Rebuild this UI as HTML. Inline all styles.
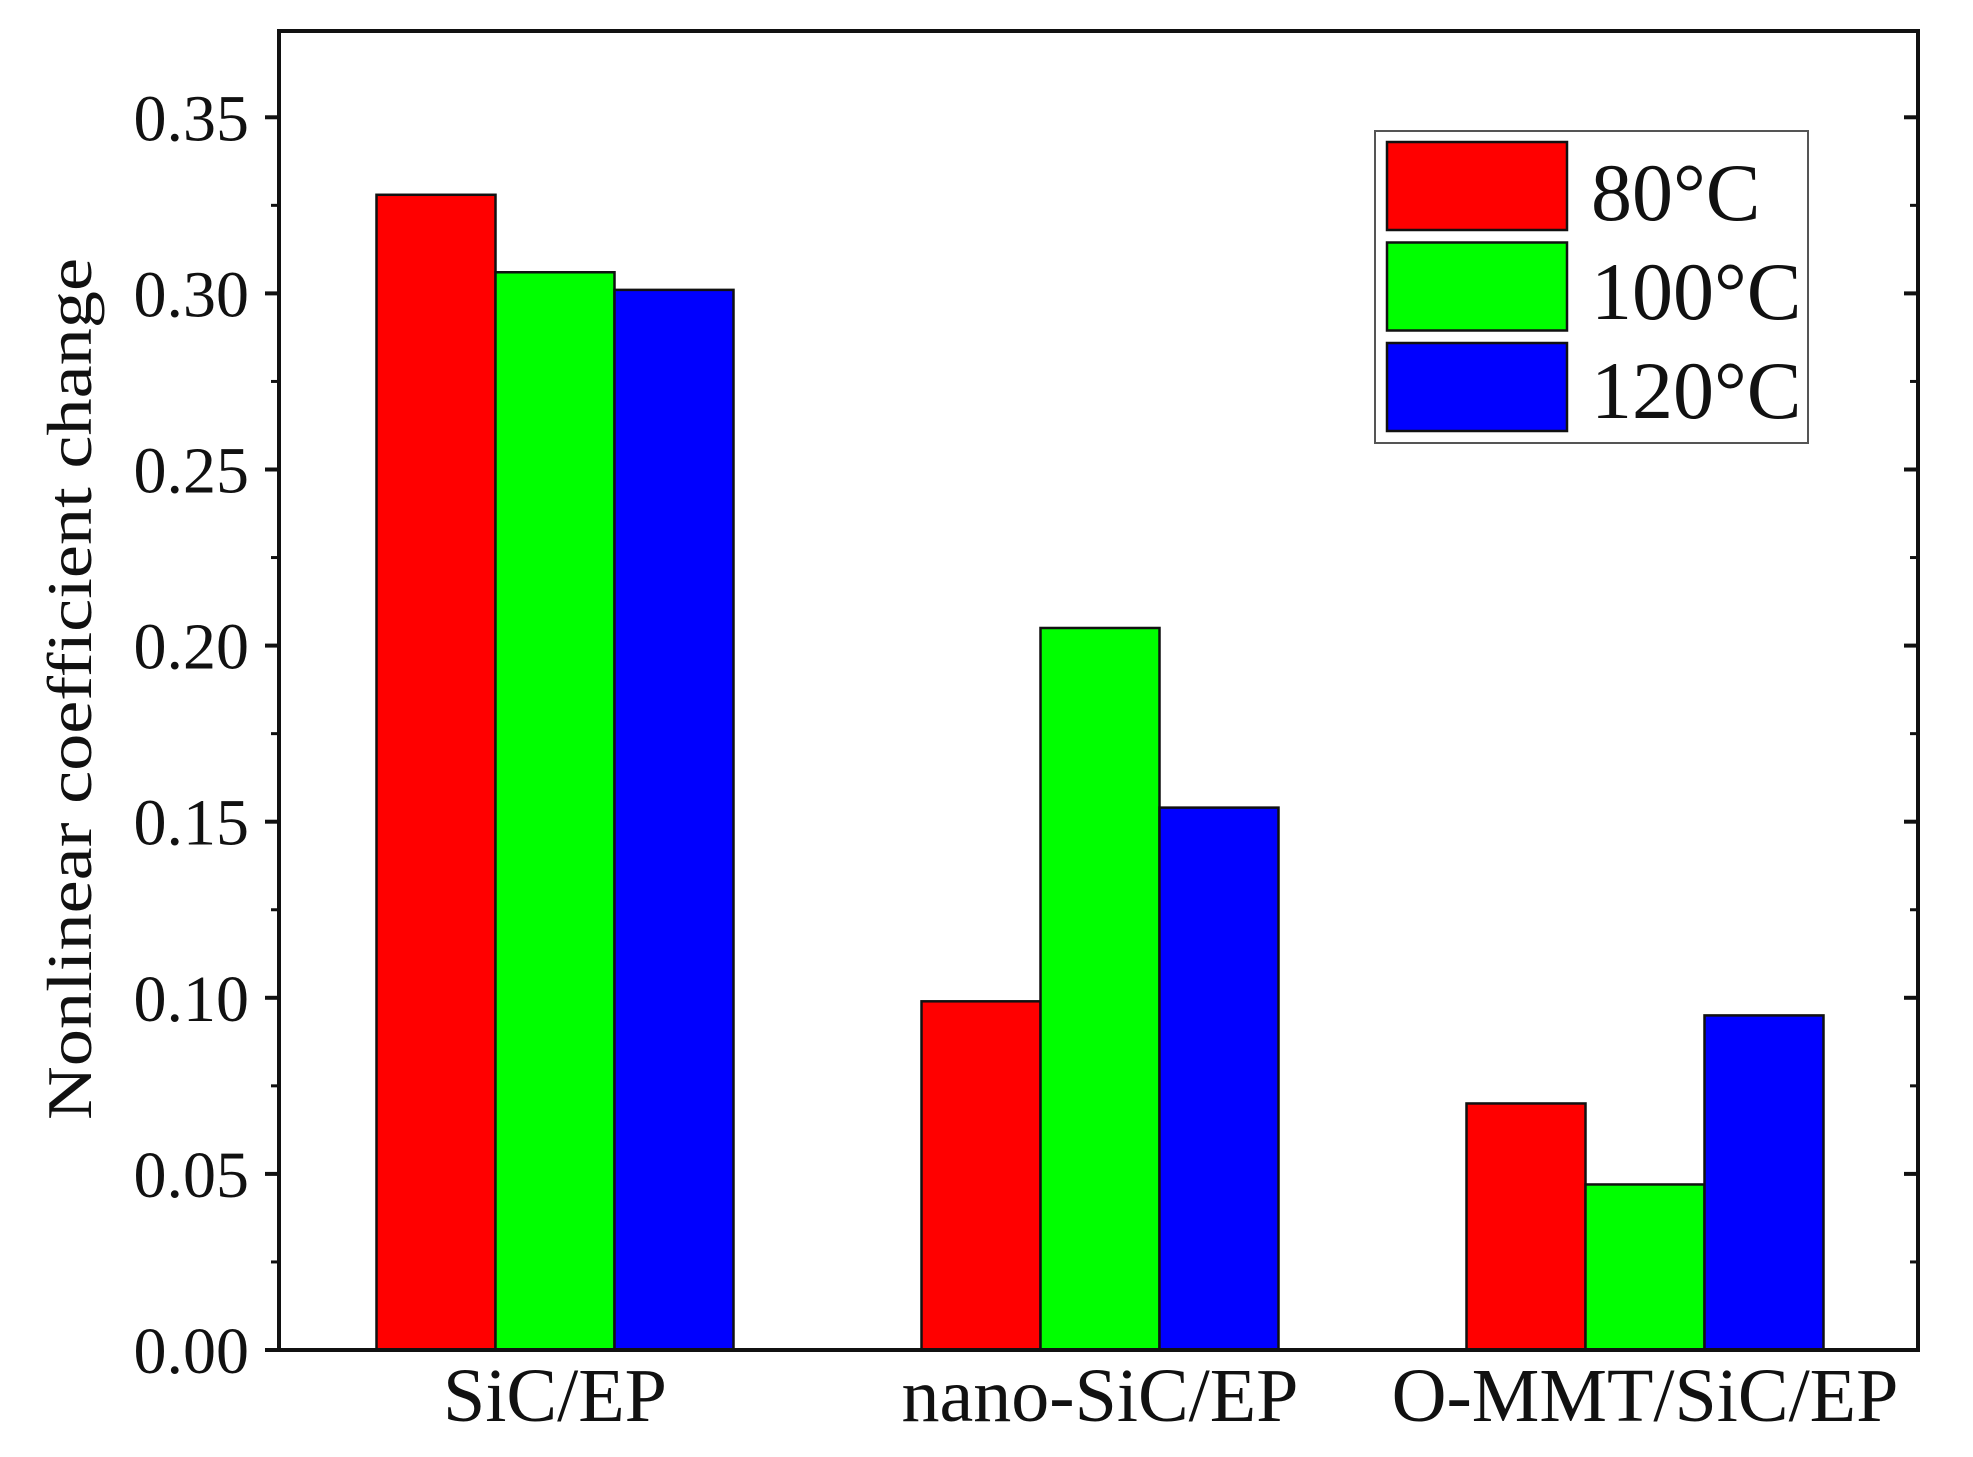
<!DOCTYPE html>
<html><head><meta charset="utf-8"><style>
html,body{margin:0;padding:0;background:#fff;}
svg{display:block;font-family:"Liberation Serif",serif;}
</style></head><body>
<svg id="chart" width="1973" height="1457" viewBox="0 0 1973 1457" xmlns="http://www.w3.org/2000/svg">
<g id="bars"></g>
<g id="axes"></g>
<g id="legend"></g>
</svg>
<script>
const categories = ["SiC/EP", "nano-SiC/EP", "O-MMT/SiC/EP"];
const seriesNames = ["80°C", "100°C", "120°C"];
const s80 = [0.328, 0.099, 0.070];
const s100 = [0.306, 0.205, 0.047];
const s120 = [0.301, 0.154, 0.095];
const yTicks = [0, 0.05, 0.10, 0.15, 0.20, 0.25, 0.30, 0.35];
const yTickLabels = ["0.00", "0.05", "0.10", "0.15", "0.20", "0.25", "0.30", "0.35"];

const NS = "http://www.w3.org/2000/svg";
const L = 279, R = 1918, T = 31, B = 1350;
const yMax = 0.3745;
const colors = ["#ff0000", "#00ff00", "#0000ff"];
const series = [s80, s100, s120];
function y(v){ return B - v / yMax * (B - T); }
const groupStart = 555, groupStep = 545, barW = 119;
function xc(i){ return groupStart + i * groupStep; }
function mk(tag, attrs, parent){
  const e = document.createElementNS(NS, tag);
  for (const k in attrs) e.setAttribute(k, attrs[k]);
  parent.appendChild(e); return e;
}
const gb = document.getElementById("bars");
series.forEach((s, si) => {
  s.forEach((v, ci) => {
    const x0 = xc(ci) - 1.5 * barW + si * barW;
    const r = mk("rect", {x: x0, y: y(v), width: barW, height: B - y(v), fill: colors[si], stroke: "#111", "stroke-width": 2.5}, gb);
    
    
  });
});
const ga = document.getElementById("axes");
const frame = mk("rect", {x: L, y: T, width: R - L, height: B - T, fill: "none", stroke: "#111", "stroke-width": 4}, ga);


yTicks.forEach((v, i) => {
  const yy = y(v);
  mk("line", {x1: L - 14, x2: L, y1: yy, y2: yy, stroke: "#111", "stroke-width": 4}, ga);
  mk("line", {x1: R - 14, x2: R, y1: yy, y2: yy, stroke: "#111", "stroke-width": 4}, ga);
  const ym = y(v + 0.025);
  if (v + 0.025 < yMax) {
    mk("line", {x1: L - 8, x2: L, y1: ym, y2: ym, stroke: "#111", "stroke-width": 3}, ga);
    mk("line", {x1: R - 8, x2: R, y1: ym, y2: ym, stroke: "#111", "stroke-width": 3}, ga);
  }
  const t = mk("text", {x: 249, y: yy + 23, "text-anchor": "end", "font-size": 66, fill: "#111"}, ga);
  t.textContent = yTickLabels[i];
  
  
});
categories.forEach((c, i) => {
  const t = mk("text", {x: xc(i), y: 1421, "text-anchor": "middle", "font-size": 76, fill: "#111"}, ga);
  t.textContent = c;
  
  
});
const yt = mk("text", {x: 0, y: 0, "text-anchor": "middle", "font-size": 64, fill: "#111", transform: "translate(91,689) rotate(-90)", textLength: 862, lengthAdjust: "spacingAndGlyphs"}, ga);
yt.textContent = "Nonlinear coefficient change";



const gl = document.getElementById("legend");
const lb = mk("rect", {x: 1375, y: 131, width: 433, height: 312, fill: "#fff", stroke: "#555", "stroke-width": 2}, gl);


seriesNames.forEach((n, i) => {
  const g = mk("g", {}, gl);
  
  
  mk("rect", {x: 1387, y: 142 + i * 100.5, width: 180, height: 88, fill: colors[i], stroke: "#111", "stroke-width": 2.5}, g);
  const t = mk("text", {x: 1591, y: 220 + i * 99, "font-size": 82, fill: "#111"}, g);
  t.textContent = n;
});
</script>
</body></html>
